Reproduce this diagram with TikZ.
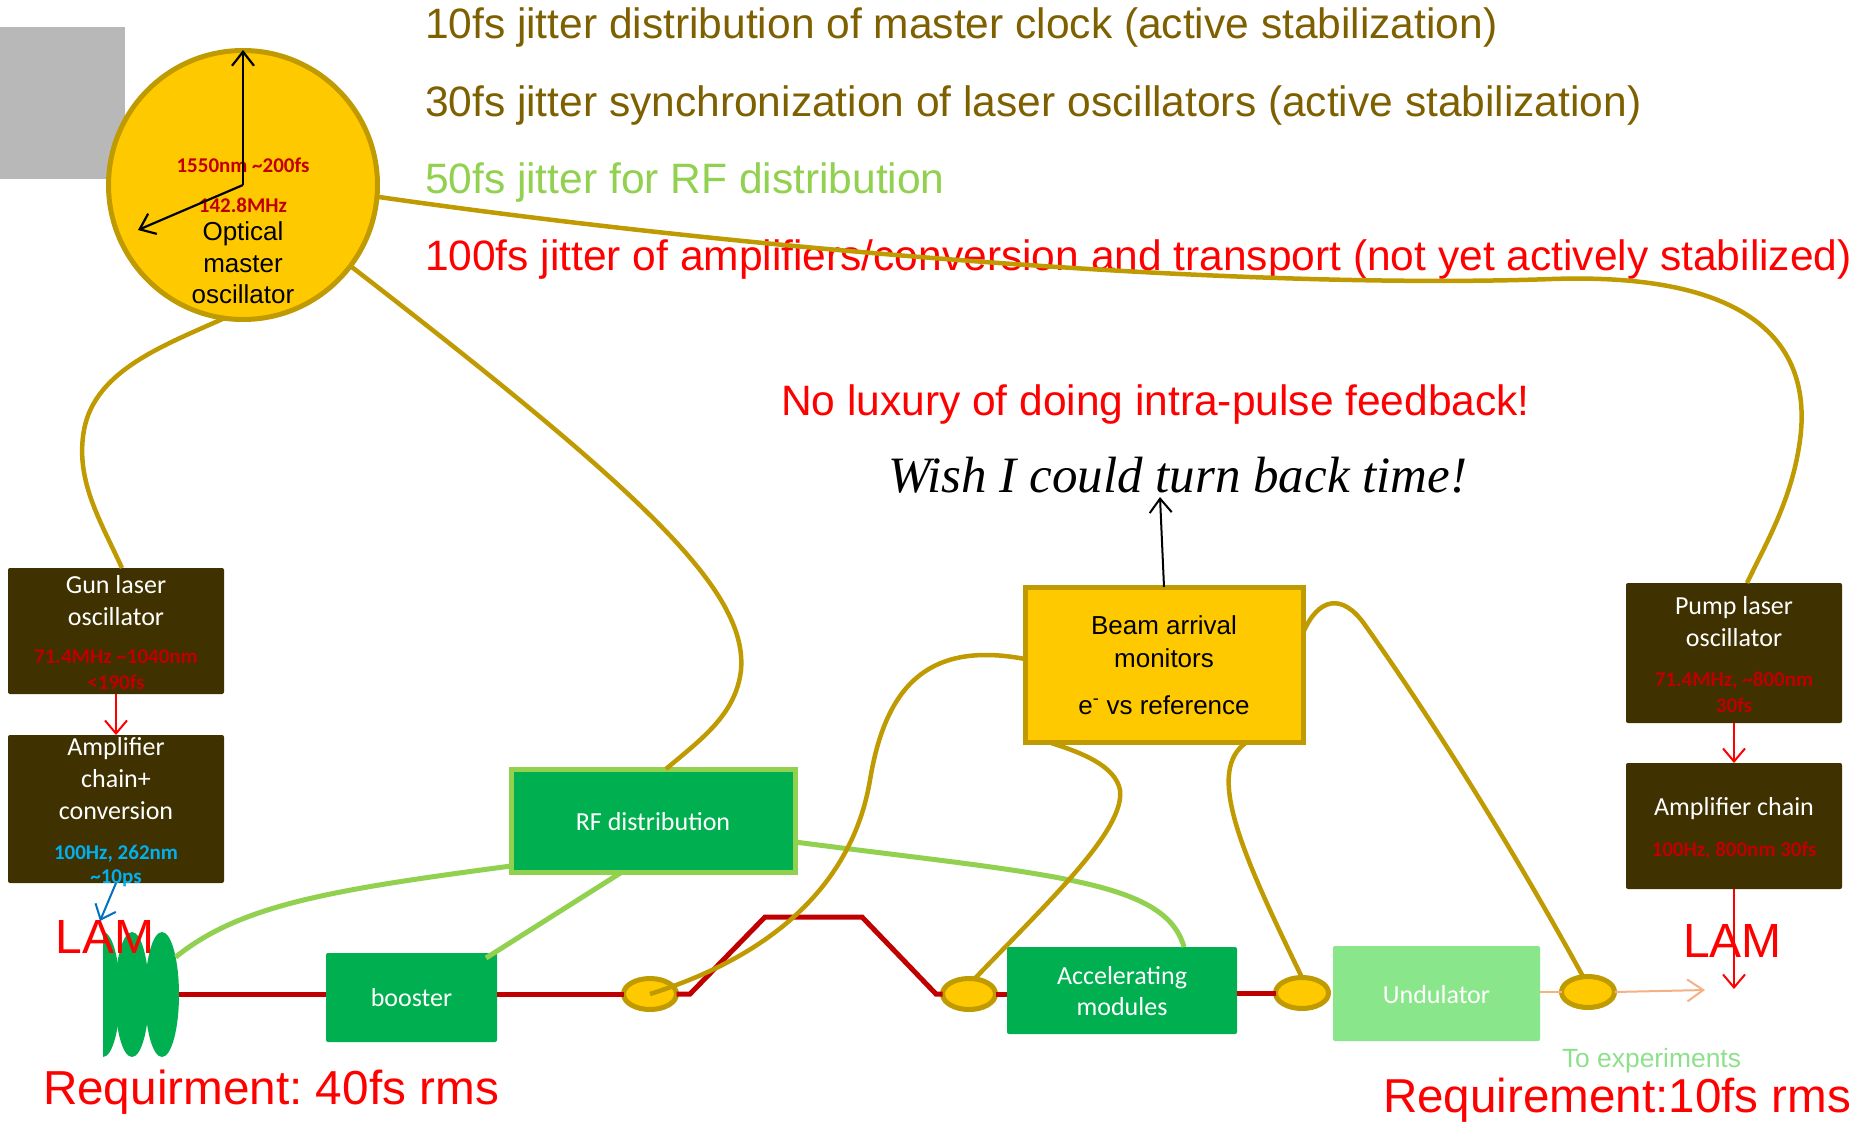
\documentclass[tikz,border=0pt]{standalone}
\usepackage{fontspec}
\setmainfont{Liberation Sans}
\newfontfamily\calib{Carlito}
\newfontfamily\handf{Liberation Serif}
\usetikzlibrary{arrows.meta,shapes.geometric}
\frenchspacing
\definecolor{goldl}{HTML}{BF9A00}
\definecolor{sun}{HTML}{FFC900}
\definecolor{oliveT}{HTML}{7F6000}
\definecolor{lgreen}{HTML}{92D050}
\definecolor{mgreen}{HTML}{00B050}
\definecolor{ugreen}{HTML}{8AE68A}
\definecolor{bbrown}{HTML}{3F3100}
\definecolor{dred}{HTML}{C00000}
\definecolor{cyanb}{HTML}{00B0F0}
\definecolor{blueb}{HTML}{0070C0}
\definecolor{lorange}{HTML}{F4B183}
\definecolor{expg}{HTML}{8EE08C}
\definecolor{grayb}{HTML}{B8B8B8}
\newcommand\fsz[1]{\fontsize{#1}{#1}\selectfont}
\tikzset{
  every node/.style={inner sep=0pt, outer sep=0pt},
  bigtxt/.style={font=\fsz{42.5}, anchor=base west},
  boxtxt/.style={font=\calib\fsz{26}, text=white, anchor=base},
  valtxt/.style={font=\calib\bfseries\fsz{21}, anchor=base},
  armtxt/.style={font=\fsz{26}, anchor=base},
  brownbox/.style={rectangle, rounded corners=2pt, fill=bbrown},
  greenbox/.style={rectangle, rounded corners=2pt, fill=mgreen},
  goldline/.style={draw=goldl, line width=4.5pt},
  lgline/.style={draw=lgreen, line width=5pt},
  beam/.style={draw=dred, line width=5pt},
  bunch/.style={ellipse, draw=goldl, line width=5pt, fill=sun, minimum width=53pt, minimum height=31pt},
  barb/.style={-{Straight Barb[length=14pt,width=22pt]}}
}
\begin{document}
\begin{tikzpicture}[x=1pt,y=-1pt]
\useasboundingbox (0,0) rectangle (1865,1124);
\fill[white] (0,0) rectangle (1865,1124);
% gray block
\fill[grayb] (0,27) rectangle (125,179);

% ---------- nodes ----------
\node[circle, fill=sun, draw=goldl, line width=5pt, minimum size=269pt] (omo) at (243,185) {};
\node[brownbox, minimum width=216pt, minimum height=126pt] (gun) at (116,631) {};
\node[brownbox, minimum width=216pt, minimum height=148pt] (amp) at (116,809) {};
\node[brownbox, minimum width=216pt, minimum height=140pt] (pump) at (1734,653) {};
\node[brownbox, minimum width=216pt, minimum height=126pt] (ampc) at (1734,826) {};
\node[rectangle, fill=sun, draw=goldl, line width=5pt, minimum width=278pt, minimum height=155pt] (bam) at (1164,664.5) {};
\node[rectangle, fill=mgreen, draw=lgreen, line width=5pt, minimum width=284pt, minimum height=103pt] (rf) at (653,820.5) {};
\node[greenbox, minimum width=171pt, minimum height=89pt] (booster) at (411.5,997.5) {};
\node[greenbox, minimum width=230pt, minimum height=87pt] (acc) at (1122,990.5) {};
\node[rectangle, rounded corners=2pt, fill=ugreen, minimum width=207pt, minimum height=95pt] (und) at (1436.5,993.5) {};

% gun bunches
\begin{scope}
  \clip (103,900) rectangle (200,1080);
  \fill[mgreen] (103,994.5) ellipse [x radius=17pt, y radius=62.5pt];
\end{scope}
\node[ellipse, fill=mgreen, minimum width=34pt, minimum height=125pt] (g2) at (132,994.5) {};
\node[ellipse, fill=mgreen, minimum width=34pt, minimum height=125pt] (g3) at (162,994.5) {};

% ---------- beamline ----------
\node[bunch] (e1) at (650,994) {};
\node[bunch] (e2) at (969,994) {};
\node[bunch] (e3) at (1302,993) {};
\node[bunch] (e4) at (1588,992) {};
\draw[beam] (g3.east) -- (booster.west |- g3.east);
\draw[beam] (booster.east |- e1.west) -- (e1.west);
\draw[beam] (e1.east) -- (690,994) -- (765,917) -- (862,917) -- (936,994) -- (e2.west);
\draw[beam] (e2.east) -- (acc.west |- e2.east);
\draw[beam] (acc.east |- e3.west) -- (e3.west);
\draw[lorange, line width=2.5pt] (und.east |- e4.west) -- (e4.west);
\coordinate (expt) at (1705,990);
\draw[lorange, line width=2pt, -{Straight Barb[length=16pt,width=22pt]}] (e4.east) -- (expt);

% ---------- texts in nodes ----------
\node[valtxt, text=dred] (f1) at (243,172) {1550nm \textasciitilde200fs};
\node[valtxt, text=dred] (f2) at (243,212) {142.8MHz};
\node[armtxt] (o1) at (243,240) {Optical};
\node[armtxt] (o2) at (243,272) {master};
\node[armtxt] (o3) at (243,303) {oscillator};

\node[boxtxt] (gt1) at (116,593) {Gun laser};
\node[boxtxt] (gt2) at (116,625) {oscillator};
\node[valtxt, text=dred] (gt3) at (116,663) {71.4MHz \textasciitilde1040nm};
\node[valtxt, text=dred] (gt4) at (116,689) {<190fs};

\node[boxtxt] (at1) at (116,755) {Amplifier};
\node[boxtxt] (at2) at (116,787) {chain+};
\node[boxtxt] (at3) at (116,819) {conversion};
\node[valtxt, text=cyanb] (at4) at (116,859) {100Hz, 262nm};
\node[valtxt, text=cyanb] (at5) at (116,883) {\textasciitilde10ps};

\node[boxtxt] (pt1) at (1734,614) {Pump laser};
\node[boxtxt] (pt2) at (1734,646) {oscillator};
\node[valtxt, text=dred] (pt3) at (1734,686) {71.4MHz, \textasciitilde800nm};
\node[valtxt, text=dred] (pt4) at (1734,712) {30fs};

\node[boxtxt] (ct1) at (1734,815) {Amplifier chain};
\node[valtxt, text=dred] (ct2) at (1734,856) {100Hz, 800nm 30fs};

\node[armtxt] (bt1) at (1164,634) {Beam arrival};
\node[armtxt] (bt2) at (1164,667) {monitors};
\node[armtxt] (bt3) at (1164,714) {e\textsuperscript{-} vs reference};

\node[boxtxt] (rft) at (653,830) {RF distribution};
\node[boxtxt] (bot) at (411.5,1006) {booster};
\node[boxtxt] (act1) at (1122,984) {Accelerating};
\node[boxtxt] (act2) at (1122,1015) {modules};
\node[boxtxt] (unt) at (1436.5,1003) {Undulator};

% ---------- free texts ----------
\node[bigtxt, text=oliveT] (l1) at (425,39) {10fs jitter distribution of master clock (active stabilization)};
\node[bigtxt, text=oliveT] (l2) at (425,116) {30fs jitter synchronization of laser oscillators (active stabilization)};
\node[bigtxt, text=lgreen] (l3) at (425,193) {50fs jitter for RF distribution};
\node[bigtxt, text=red] (l4) at (425,270) {100fs jitter of amplifiers/conversion and transport (not yet actively stabilized)};
\node[bigtxt, text=red] (lux) at (781,415) {No luxury of doing intra-pulse feedback!};
\node[font=\handf\itshape\fsz{51}, anchor=base west] (wish) at (888,492) {Wish I could turn back time!};

\node[font=\fsz{48}, text=red, anchor=base west] (lamL) at (55.5,953) {LAM};
\node[font=\fsz{48}, text=red, anchor=base west] (lamR) at (1683,957) {LAM};
\node[font=\fsz{47.7}, text=red, anchor=base west] (req1) at (43,1104) {Requirment: 40fs rms};
\node[font=\fsz{47.6}, text=red, anchor=base west] (req2) at (1383,1112) {Requirement:10fs rms};
\node[font=\fsz{26.4}, text=expg, anchor=base west] (toexp) at (1562,1067) {To experiments};

% ---------- arrows ----------
\coordinate (oc) at (243,185);
\coordinate (oup) at (243,50);
\coordinate (olf) at (138,230);
\draw[line width=2.2pt, barb] (oc) -- (oup);
\draw[line width=2.2pt, barb] (oc) -- (olf);
\coordinate (wishin) at (1160,497);
\draw[line width=2pt, barb] (bam.north) -- (wishin);
\draw[red, line width=2pt, -{Straight Barb[length=13pt,width=22pt]}] (gun.south) -- (amp.north);
\draw[red, line width=2pt, -{Straight Barb[length=13pt,width=22pt]}] (pump.south) -- (ampc.north);
\coordinate (lamRin) at (1734,989);
\draw[red, line width=2pt, -{Straight Barb[length=13pt,width=22pt]}] (ampc.south) -- (lamRin);
\coordinate (lamLin) at (100,921);
\draw[blueb, line width=2pt, -{Straight Barb[length=13pt,width=22pt]}] (amp.south) -- (lamLin);

% ---------- light green RF lines ----------
\draw[lgline] (g3.70) .. controls (240,905) and (330,890) .. ([yshift=6pt]rf.south west);
\draw[lgline] ([xshift=-31pt]rf.south) -- ([xshift=-11pt,yshift=-5pt]booster.north east);
\draw[lgline] ([yshift=-21.5pt]rf.east) .. controls (1050,875) and (1165,880) .. ([xshift=62pt]acc.north);

% ---------- gold optical lines ----------
\draw[goldline] ([xshift=6pt]gun.north) .. controls (100,520) and (75,480) .. (84,430) .. controls (95,370) and (165,345) .. (omo.262);
\draw[goldline] (omo.-37) .. controls (640,490) and (748,590) .. (741,670) .. controls (736,715) and (700,740) .. ([xshift=13pt]rf.north);
\draw[goldline] (omo.-5) .. controls (760,252) and (1250,290) .. (1552,279) .. controls (1760,272) and (1812,350) .. (1800,440) .. controls (1792,500) and (1765,545) .. ([xshift=13pt]pump.north);
\draw[goldline] (e1.center) .. controls (790,950) and (855,870) .. (870,780) .. controls (885,690) and (925,640) .. ([yshift=5.5pt]bam.west);
\draw[goldline] (e2.70) .. controls (1050,900) and (1125,830) .. (1120,790) .. controls (1115,765) and (1080,752) .. ([xshift=-116pt]bam.south);
\draw[goldline] (e3.north) .. controls (1240,850) and (1205,770) .. ([xshift=83pt]bam.south);
\draw[goldline] ([yshift=31.5pt]bam.east) .. controls (1318,598) and (1342,592) .. (1365,625) .. controls (1450,745) and (1530,880) .. ([xshift=-5pt]e4.north);
\end{tikzpicture}
\end{document}
